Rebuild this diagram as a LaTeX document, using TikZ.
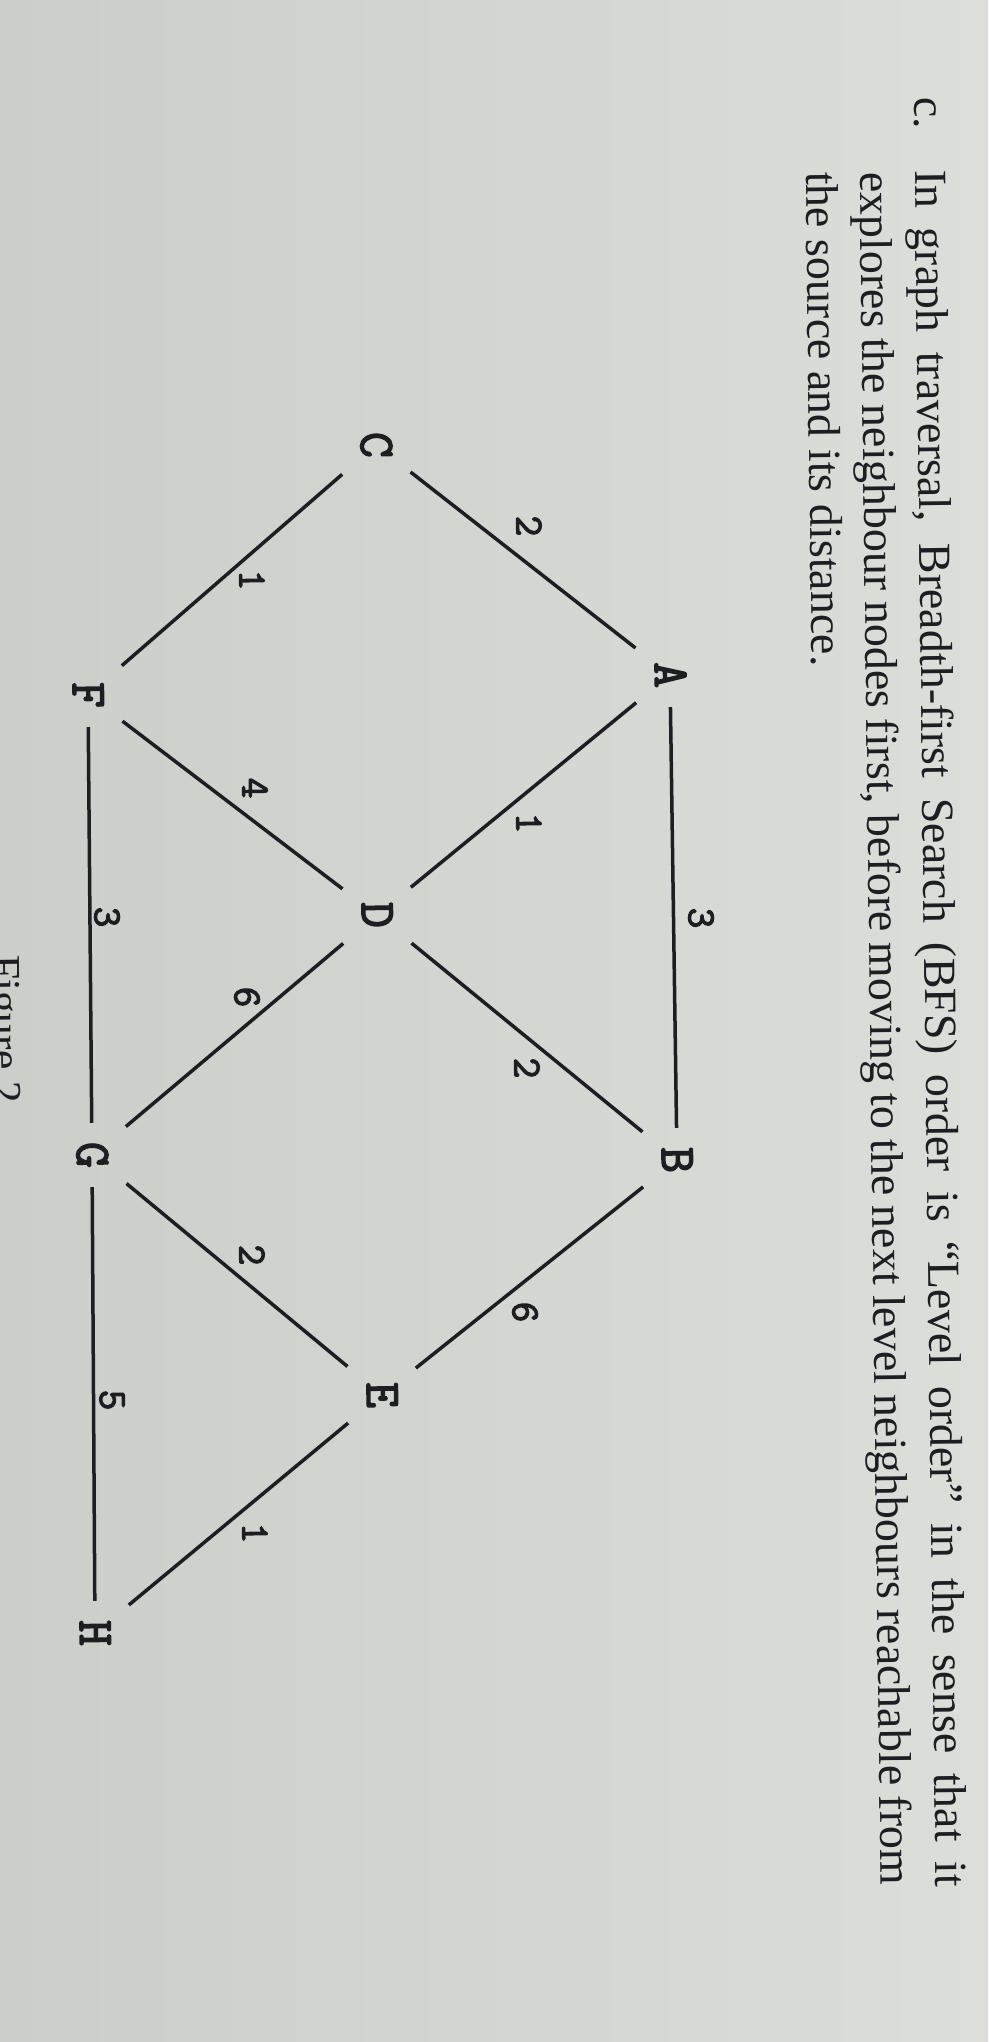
\documentclass[tikz,border=0pt]{standalone}
\usepackage{fontspec}
\setmainfont{Liberation Serif}
\newfontfamily\gfont[FakeBold=3]{Latin Modern Mono}
\definecolor{paperL}{RGB}{202,207,202}
\definecolor{paperR}{RGB}{219,222,217}
\definecolor{ink}{RGB}{28,30,34}
\begin{document}
\begin{tikzpicture}[x=1pt,y=-1pt,
  vert/.style={font=\gfont\fontsize{50}{50}\selectfont, text=ink, rotate=-89.3,
    inner sep=0pt, minimum width=64pt, minimum height=68pt, text height=30pt, text depth=0pt},
  lab/.style={font=\gfont\fontsize{40}{40}\selectfont, text=ink, rotate=-89.3, inner sep=0pt},
  edge/.style={draw=ink, line width=3.5pt},
  para/.style={font=\fontsize{46}{55}\selectfont, text=ink, rotate=-89.3, inner sep=0pt, anchor=base west}]
\useasboundingbox (0,0) rectangle (988,2042);
\fill[left color=paperL, right color=paperR] (0,0) rectangle (988,2042);
\clip (0,0) rectangle (988,2042);

% question text
\node[para] (cc) at (914,97) {c.};
\node[para] (l1) at (915,170) {\hbox to 1717pt{\spaceskip=.25em plus 1fil minus .2em In graph traversal, Breadth-first Search (BFS) order is “Level order” in the sense that it}};
\node[para] (l2) at (860,172) {\hbox to 1713pt{\spaceskip=.25em plus 1fil minus .2em explores the neighbour nodes first, before moving to the next level neighbours reachable from}};
\node[para] (l3) at (806,172) {the source and its distance.};
\node[para, font=\fontsize{44}{50}\selectfont] (fig) at (-10,955) {Figure 2};

% vertices
\node[vert] (A) at (670,675) {A};
\node[vert] (B) at (677,1160) {B};
\node[vert] (C) at (376,445) {C};
\node[vert] (D) at (377,915) {D};
\node[vert] (E) at (382,1395) {E};
\node[vert] (F) at (88,695) {F};
\node[vert] (G) at (92,1155) {G};
\node[vert] (H) at (95,1633) {H};

% edges
\draw[edge] (A) -- (B);
\draw[edge] (A) -- (C);
\draw[edge] (A) -- (D);
\draw[edge] (C) -- (F);
\draw[edge] (F) -- (D);
\draw[edge] (F) -- (G);
\draw[edge] (B) -- (D);
\draw[edge] (D) -- (G);
\draw[edge] (B) -- (E);
\draw[edge] (G) -- (E);
\draw[edge] (E) -- (H);
\draw[edge] (G) -- (H);

% weights
\node[lab] (wAB) at (701,918) {3};
\node[lab] (wAC) at (529,526) {2};
\node[lab] (wAD) at (529,823) {1};
\node[lab] (wCF) at (252,580) {1};
\node[lab] (wFD) at (255,788) {4};
\node[lab] (wFG) at (107,917) {3};
\node[lab] (wBD) at (527,1068) {2};
\node[lab] (wDG) at (247,997) {6};
\node[lab] (wBE) at (525,1312) {6};
\node[lab] (wGE) at (252,1255) {2};
\node[lab] (wGH) at (112,1400) {5};
\node[lab] (wEH) at (255,1533) {1};
\end{tikzpicture}
\end{document}
